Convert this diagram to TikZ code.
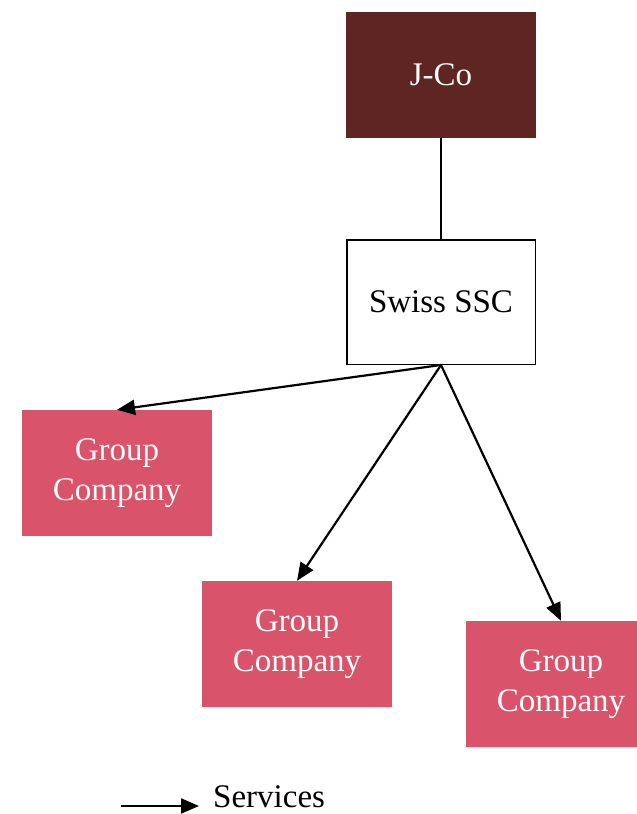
\documentclass[tikz,border=0pt]{standalone}
\usepackage{fontspec}
\setmainfont{Liberation Serif}
\usetikzlibrary{arrows.meta}
\definecolor{jcobrown}{HTML}{5E2522}
\definecolor{grouppink}{HTML}{D9536B}
\tikzset{
  box/.style={minimum width=190pt, minimum height=126pt, inner sep=0pt,
    align=center, font=\fontsize{33}{40}\selectfont},
  parentbox/.style={box, fill=jcobrown, text=white},
  sscbox/.style={box, draw=black, line width=1.5pt, fill=white,
    minimum width=188.5pt, minimum height=124.5pt},
  groupbox/.style={box, fill=grouppink, text=white},
  service/.style={line width=2.2pt, -{Triangle[length=18pt,width=15pt]}},
  link/.style={line width=1.5pt}
}
\begin{document}
\begin{tikzpicture}[x=1pt,y=-1pt]
  \useasboundingbox (0,0) rectangle (637,814);
  \clip (0,0) rectangle (637,814);
  % ownership chain
  \node[parentbox] (jco) at (441,74.5) {J-Co};
  \node[sscbox] (ssc) at (441,302) {Swiss SSC};
  \draw[link] (jco.south) -- (ssc.north);
  % serviced group companies
  \node[groupbox] (gc1) at (117,473) {Group\\Company};
  \node[groupbox] (gc2) at (297,644) {Group\\Company};
  \node[groupbox] (gc3) at (561,684) {Group\\Company};
  \draw[service] (ssc.south) -- (gc1.north);
  \draw[service] (ssc.south) -- (gc2.north);
  \draw[service] (ssc.south) -- (gc3.north);
  % legend
  \coordinate (legstart) at (121,806);
  \coordinate (legend) at (199,806);
  \draw[service] (legstart) -- (legend);
  \node[anchor=base west, font=\fontsize{33}{40}\selectfont, inner sep=0pt] (legtext) at (213,807) {Services};
\end{tikzpicture}
\end{document}
